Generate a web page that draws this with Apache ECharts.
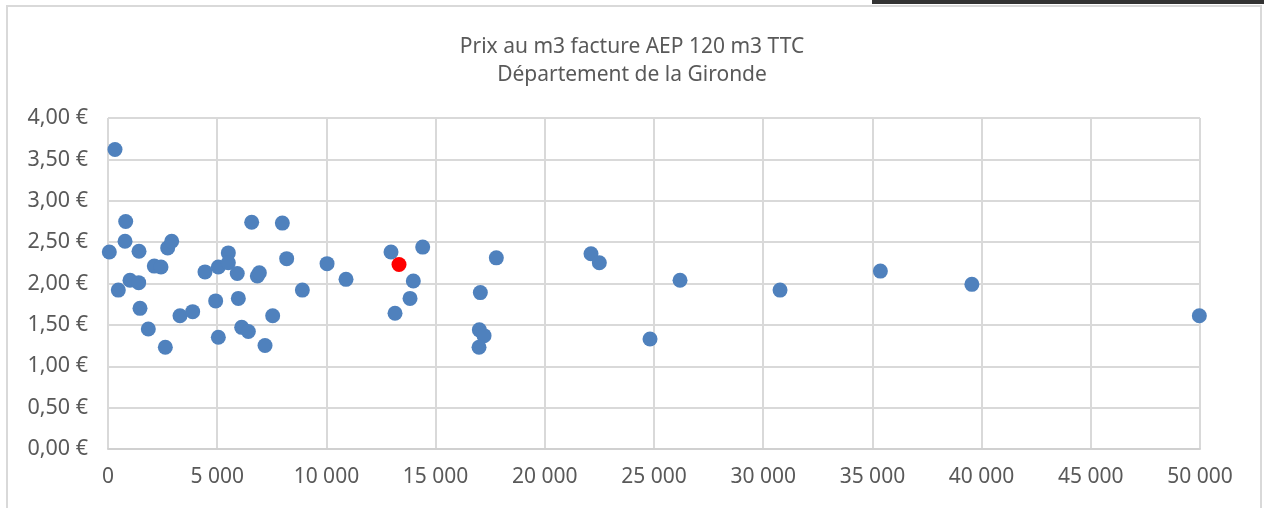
<!DOCTYPE html>
<html>
<head>
<meta charset="utf-8">
<script src="https://cdn.jsdelivr.net/npm/echarts@6/dist/echarts.min.js"></script>
<style>
  html, body { margin: 0; padding: 0; background: #fff; }
  #chart { width: 1264px; height: 508px; }
</style>
</head>
<body>
<div id="chart"></div>
<script>
// nombre d'habitants (axe X) et prix au m3 (axe Y)
const communes = [
  320, 60, 810, 780, 472, 1007, 1405, 1420, 1465, 1846,
  2120, 2427, 2733, 2916, 2625, 3297, 3877, 4441, 4930, 5052,
  5052, 5510, 5510, 5918, 5968, 6121, 6426, 6579, 6838, 6930,
  7190, 7540, 7983, 8181, 8899, 10030, 10898, 12959, 14410, 13980,
  13829, 13142, 17781, 17049, 17003, 17218, 16988, 22116, 22497, 24818,
  26192, 30771, 35365, 39555, 49970
];
const prix = [
  3.62, 2.38, 2.75, 2.51, 1.92, 2.04, 2.01, 2.39, 1.70, 1.45,
  2.21, 2.20, 2.43, 2.51, 1.23, 1.61, 1.66, 2.14, 1.79, 2.20,
  1.35, 2.37, 2.25, 2.12, 1.82, 1.47, 1.42, 2.74, 2.09, 2.13,
  1.25, 1.61, 2.73, 2.30, 1.92, 2.24, 2.05, 2.38, 2.44, 2.03,
  1.82, 1.64, 2.31, 1.89, 1.44, 1.37, 1.23, 2.36, 2.25, 1.33,
  2.04, 1.92, 2.15, 1.99, 1.61
];
// commune mise en évidence
const selection = [13325];
const selectionPrix = [2.23];

const xTicks = [0, 5000, 10000, 15000, 20000, 25000, 30000, 35000, 40000, 45000, 50000];

const font = "'Noto Sans', 'Open Sans', sans-serif";
const grey = "#595959";

const points = communes.map((c, i) => [c, prix[i]]);
const pointsSel = selection.map((c, i) => [c, selectionPrix[i]]);

const chart = echarts.init(document.getElementById("chart"));
chart.setOption({
  animation: false,
  textStyle: { fontFamily: font },
  graphic: [
    {
      type: "rect",
      shape: { x: 7, y: 6, width: 1254, height: 530 },
      style: { fill: "none", stroke: "#d9d9d9", lineWidth: 2 },
      silent: true
    },
    {
      type: "rect",
      shape: { x: 872, y: 0, width: 392, height: 4 },
      style: { fill: "#333333" },
      silent: true
    }
  ],
  title: {
    text: "Prix au m3 facture AEP 120 m3 TTC\nDépartement de la Gironde",
    left: "center",
    top: 28,
    textStyle: {
      fontFamily: font,
      fontSize: 21,
      fontWeight: "normal",
      color: grey,
      lineHeight: 28
    }
  },
  grid: { left: 108, right: 64, top: 118, bottom: 59 },
  xAxis: {
    type: "value",
    min: xTicks[0],
    max: xTicks[xTicks.length - 1],
    interval: 5000,
    axisLine: { show: true, onZero: false, lineStyle: { color: "#d0d0d0", width: 2 } },
    axisTick: { show: false },
    splitLine: { show: true, lineStyle: { color: "#d9d9d9", width: 2 } },
    axisLabel: {
      margin: 18,
      fontSize: 21,
      color: grey,
      fontFamily: font,
      formatter: v => String(v).replace(/\B(?=(\d{3})+(?!\d))/g, " ")
    }
  },
  yAxis: {
    type: "value",
    min: 0,
    max: 4,
    interval: 0.5,
    axisLine: { show: false },
    axisTick: { show: false },
    splitLine: { show: true, lineStyle: { color: "#d9d9d9", width: 2 } },
    axisLabel: {
      margin: 20,
      fontSize: 21.5,
      color: grey,
      fontFamily: font,
      formatter: v => v.toFixed(2).replace(".", ",") + " €"
    }
  },
  series: [
    {
      name: "Communes",
      type: "scatter",
      symbolSize: 15,
      itemStyle: { color: "#4f81bd", opacity: 1 },
      data: points
    },
    {
      name: "Sélection",
      type: "scatter",
      symbolSize: 15,
      itemStyle: { color: "#ff0000", opacity: 1 },
      data: pointsSel
    }
  ]
});
</script>
</body>
</html>
